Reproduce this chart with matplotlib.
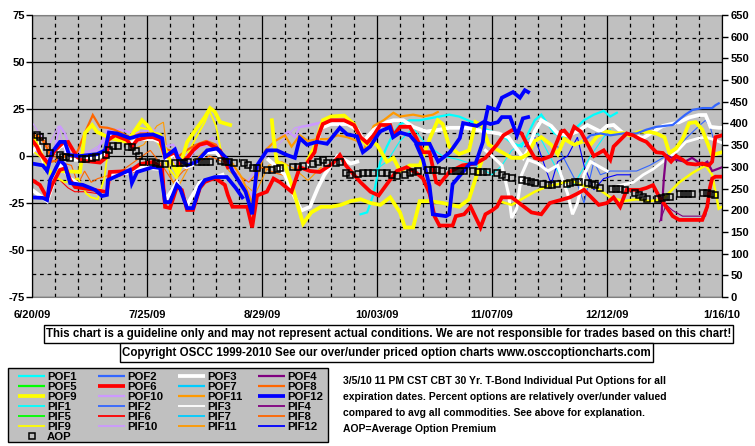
import matplotlib
matplotlib.use('Agg')
import matplotlib.pyplot as plt
from matplotlib.patches import Rectangle
import numpy as np

plt.rcParams['font.family'] = ['Liberation Sans', 'DejaVu Sans']
plt.rcParams['font.weight'] = 'bold'

# x axis: days counted from 6/20/09
date_days = [0, 35, 70, 105, 140, 175, 210]
date_labels = ['6/20/09', '7/25/09', '8/29/09', '10/03/09', '11/07/09', '12/12/09', '1/16/10']
left_ticks = [-75, -50, -25, 0, 25, 50, 75]
right_ticks = list(range(0, 651, 50))

# ---- series (day, percent) ----
pof12_a_days = [0, 3.3, 4.6, 6.1, 8.5, 10, 11.3, 14.6, 19.8, 22.2, 23.4, 25.9, 29.8, 32.9, 36.8,
                39.6, 40.5, 43.5, 44.4, 47.2, 50.2, 53.3, 56.3, 59.6, 61, 65, 67, 68.5, 71.5, 74.5,
                77.6, 80, 81.5, 83.7, 86.7, 89.8, 93.7, 95.9, 98.9, 100.7, 102.9, 105.9, 108.9, 109.9, 112,
                115, 117.2, 121, 123.6, 127.2, 130.2, 131.2, 135.4, 137.9, 138.8, 141.5, 143, 146.4, 148.5, 150, 151]
pof12_a_vals = [-4, -5, -8, 2, 7.5, 7.5, 0.5, 0, 1, 3, 12.5, 12, 9.5, 11, 11.5,
                9.5, -0.5, 3.5, -1, -5, -3, 3, 4, -2, -8, -19, -31, -5, 3, 3,
                0.5, -1, 9.5, 6, 7.5, 6.5, 15, 11.5, 10.5, 2, 5, 13, 15.4, 10, 12.5,
                11, 6.5, 6.5, -3, 2, 9.5, 17.5, 16, 18.5, 26, 24.5, 31, 34, 31, 35, 34]
pof12_b_days = [117, 119, 121, 122, 126, 127, 128, 133.3, 135, 137.2, 137.9, 139.5, 141.8, 143, 145.5, 147.6, 149.4, 151]
pof12_b_vals = [6, -2, -16, -31, -32, -31, -15, -4, -4, 7.4, 18, 17, 18, 20.7, 20.7, 11, 20, 20.7]
pof12_c_days = [0, 3.3, 4.6, 5.5, 8.5, 10, 11.6, 15.5, 19.2, 21.3, 22.8, 23.1, 29.8, 30.4, 32,
                36.8, 39, 40.5, 42, 44.1, 45, 47.2, 49, 51.1, 52.6, 55.7, 59.3, 62, 64]
pof12_c_vals = [-22, -22.3, -23.4, -12.8, -2.1, -4.8, -14.4, -15.4, -18, -21.3, -20.7, -12.8, -7.4, -14.4, -8.5,
                -5.9, -6.4, -24.5, -24.5, -15.4, -17, -27.7, -27.7, -16.5, -12.8, -11.2, -11.2, -17, -22]
pif12_days = [150, 153, 156, 158, 160, 163, 166, 168, 171, 174, 178, 182]
pif12_vals = [5, 10, -5, -15, -3, 0, 10, -5, -18, -12, -10, -10]

pof6_a_days = [0, 1.5, 2.4, 4.9, 7, 9.4, 11, 13.7, 15.5, 20.7, 22.8, 23.1, 25.3, 28.9, 30.4,
               32, 35, 36.8, 39, 40.5, 43.5, 45, 47.2, 49, 51, 53.3, 57.2, 59.6]
pof6_a_vals = [8.5, 5, 1.5, -4, 3, 7, 7.5, -0.5, -2.5, -3.5, -0.5, 8.5, 11, 8.5, 5,
               8.5, 10, 10, 8.5, -0.5, 2, -4, -1, 3, 6, 7, 3, -6]
pof6_b_days = [0, 2.4, 4.6, 6.1, 8.5, 10.3, 11.6, 13.1, 19.2, 22.8, 23.7, 29.8, 32.9, 36.8, 39.6,
               40.5, 42, 44.1, 45.6, 47.2, 49, 51.1, 52.6, 55.7, 58.7, 59.6, 61, 65.5, 67, 68.5,
               71.5, 73.5, 75.5, 79, 81.5, 84.6, 87.6, 91.5, 93.7, 95.5, 97.5, 100, 103, 105.5,
               108, 111, 114, 117, 119, 121, 122.5, 124, 128, 129, 131.5, 133.5, 136.5, 138, 140,
               141.5, 143, 146, 149, 152, 155, 157.6, 160.7, 163.7, 166, 168, 172.5, 175, 177, 179,
               181, 185, 187, 189, 191, 195, 197, 204, 205.5, 206.3, 207, 208, 210]
pof6_b_vals = [-12.8, -15.4, -22.3, -15.4, -7.4, -6.4, -12.8, -16.5, -18.1, -19.1, -8.5, -8, -4.3, -3.2, -6.4,
               -27.1, -27.7, -16.5, -18.1, -28.7, -28.7, -17, -13.8, -11.7, -15.4, -20.7, -27, -27, -38, -21,
               -19, -12, -14, -19, -6, -8, -8.5, -4, 0.5, -5, -9, -14, -19, -21,
               -15, -8, -6, -9, -12, -20, -32, -37, -37, -32, -31, -27, -38, -31, -29,
               -27, -22, -22, -26, -30, -31, -25, -23.5, -22, -20, -18, -26, -25, -22, -27,
               -18, -18, -17, -15.5, -22, -32, -34, -34, -27, -17, -12, -11, -11]
pof6_d_days = [84, 86, 87, 88.5, 91, 95, 98, 100, 102, 104, 106, 109, 110, 112, 115,
               117, 119, 121, 123, 124, 127, 131, 135, 138, 141.5, 143.5, 146.4, 149, 151, 153,
               155, 158, 160, 161, 162, 163.7, 165, 167, 169.5, 171, 174, 176, 177, 179, 181,
               183, 185, 187, 190, 192, 194.5, 196, 198, 199.5, 202, 204, 206, 207, 208, 210]
pof6_d_vals = [-3, 2, 10, 17, 19, 19, 16.5, 10, 7, 11, 16.5, 16.5, 11, 15.5, 15.5,
               9.5, 2, 2, -14, -15, -8.5, -5, -4, -1, 6, 11, 14, 12, 5, -1,
               -2, 0, 8.5, 13, 13.5, 10, 15.5, 13, 5, 0, 3, -2, 5, 8.5, 12,
               11, 9, 7.5, 2, 1.6, -3, 0, -2, -4, -4.5, -4, -5, -3, 10, 11]
pif6_days = [8, 11, 13, 16, 20, 22.8, 24, 28, 32]
pif6_vals = [-12, -17, -19, -19, -20, -21, -12, -10, -8]

pof9_a_days = [0, 0.9, 1.8, 3.3, 5.5, 8.5, 14.6, 16.1, 18.3, 19.8, 23.7, 28.9, 33.5, 35,
               36.8, 39, 41.1, 42.9, 44.1, 45.6, 47.2, 50.2, 52.6, 54.2, 55.7, 57.2, 60.3]
pof9_a_vals = [5.9, 8.5, 4.3, -0.5, -9, -8, -8.5, 12.2, 16.5, 12.8, 9.6, 7.4, 19.1, 16.5,
               12.2, 11.2, 0.5, -4.8, -9, -2.1, 7.4, 14.9, 20.7, 25.5, 23.4, 18.1, 16.5]
pof9_b_days = [84, 86, 88.5, 91, 95, 98, 100, 102, 103, 105, 108, 110, 112, 115, 118,
               121, 123.5, 125, 127, 130, 133, 135, 137, 139, 142, 146, 149, 151, 153, 155,
               158, 160, 162, 165, 168, 170, 172, 175, 178, 180, 182, 185, 188, 190, 192.5,
               194, 196, 198, 200, 202, 204, 206, 207, 210]
pof9_b_vals = [-2, 5, 19, 21, 21.5, 17, 9, 6, 8, 6, -3, -1, -8, -5, -5,
               9, 19, 17, 5, 1, 3, 18, 16, 6, 3, -1, -1, 1, 8, 10,
               6, 1, 9, 6, 8, 6, 10.5, 13, 12, 12.2, 11, 13, 12.8, 12, 10,
               1.6, 4, 9, 17.5, 18, 14, 5, 0.5, 2]
pof9_c_days = [73, 73.5, 74.5, 77, 79, 81, 82.5, 85, 88, 91, 94, 97, 100, 103, 106,
               109, 112, 113.5, 116, 118, 121, 125, 130, 133, 135, 137]
pof9_c_vals = [19, 10, -3, -5, -15, -27, -36, -30, -27, -27, -26, -24, -23, -25, -26,
               -22, -30, -38, -38, -24, -24, -25, -27, -23, -12, -2]
pif9_a_days = [0, 3, 6, 10, 14, 16.5, 18, 20, 22, 23.5, 26, 29, 33, 36, 39, 41, 44, 47, 50, 52.6, 54, 56, 57.5, 59]
pif9_a_vals = [3, -1, -10, -14, -12, -20, -22, -23, -12, 8, 14, 8, 15, 14, 5, -5, -12, 0, 10, 18, 24, 16, 3, -4]
pif9_b_days = [142, 146, 149, 153, 157, 160, 164, 168, 172, 176, 180, 184, 188, 192, 197, 201, 205, 207, 209, 210]
pif9_b_vals = [-24, -26, -23, -19, -16, -15, -13, -16, -17, -22, -24, -23, -24, -23, -14, -9, -5, -10, -28, -27]

pof3_a_days = [0, 2, 4, 6, 8.5, 10, 11.3, 15, 20, 22, 23.4, 26, 30, 33, 37, 39.6, 40.5, 43.5, 44.4, 47, 50, 53, 56, 59]
pof3_a_vals = [2, 6, -6, 0, 5, 6, -2, -2, -1, 1, 11, 10, 7, 9, 9, 7, -2, 1, -3, -6, -4, 2, 2, -4]
pof3_b_days = [0, 4.6, 8.5, 11.6, 16, 22.8, 23.7, 29, 32.9, 39.6, 40.5, 44.1, 47.2, 51.1, 55, 58]
pof3_b_vals = [-18, -24, -4, -12, -17, -19, -10, -9, -6, -7, -24, -14, -26, -14, -12, -10]
pof3_c_days = [72, 74, 77, 80, 82, 84.6, 87, 89, 91, 93, 95, 97, 99]
pof3_c_vals = [-2, -5, -10, -22, -29, -27, -17, -10, -5, 0, -2, -4, -3]
pof3_d_days = [84, 86, 88, 91, 96, 99, 101, 104, 108, 110, 113, 116, 120, 124, 127,
               132, 138, 142, 145, 147, 149.5, 151, 153, 155, 158, 160, 163, 166, 169, 173,
               175, 177, 180, 183, 186, 189, 192, 197, 200, 203, 205, 206.5, 209, 210]
pof3_d_vals = [-4, 3, 15, 17, 17, 14, 8, 14, 18, 19, 19, 15.5, 13, 14, 15,
               15, 13, 12, 10, 5, -1, 3, 13, 19, 16, 12, 11, 13, 16.5, 13,
               16, 16.5, 12, 11, 9.6, 12.8, 16, 18, 20.5, 21.8, 21.8, 15.5, 15, 15]
pif3_a_days = [138, 140, 143, 145, 146, 147.5, 149, 151, 154, 157, 160, 163, 164.5, 166, 168, 170, 172, 175]
pif3_a_vals = [3, 0, -5, -20, -33, -28, -10, -2, -4, -8, -5, -20, -31, -25, -10, -3, -5, -8]
pif3_b_days = [178, 183, 186, 189, 192, 196, 199, 203, 205, 207, 210]
pif3_b_vals = [-16, -14, -10, -7, -3, 2, 7.5, 9.5, 10, 9, 7]

pof8_days = [0, 1.5, 3, 5, 6, 8.5, 10, 12.5, 14, 16, 18.5, 20.7, 23, 25, 30, 33, 37, 40, 42, 44, 47, 50, 53, 56, 59]
pof8_vals = [10, 11, 9, 3, -3, -2, 0, -1, 3, 12, 21.8, 15.4, 15, 14, 10, 12, 12, 4, 3, -1, 3, 6, 8, 6, -3]
pif8_days = [0, 4, 8, 12, 14, 16, 18, 20, 24, 28, 32, 36, 40, 43, 46, 50, 54, 58, 62, 66, 70, 74, 78]
pif8_vals = [12, 8, -3, -5, -15, -8, -14, -12, -10, -7, -2, 3, -6, -14, -8, -4, 0, -3, -9, -14, -6, -9, -11]

pof10_days = [0, 3, 5, 7, 8.5, 10, 12, 15, 20, 23, 27, 31, 34, 37, 40, 43, 45, 48, 51, 54, 56, 58,
              60, 63, 67, 69, 72, 75, 78, 80, 81.5, 84, 87.6, 89]
pof10_vals = [5, 0, -2, 5, 16, 12, 3, 2, 3, 14, 14, 12, 13, 14, 5, 6, 0, 1, 5, 6, 4, 0,
              -3, -10, -22, -3, 5, 9, 13, 10, 15.4, 16, 17.5, 18]
pif10_days = [0, 5, 8, 10, 15, 20, 25, 30, 35, 40, 45, 50, 55, 60, 65, 70, 75, 80, 85, 90]
pif10_vals = [18, 5, 16, 2, 0, 5, 12, 10, 14, 6, -8, 3, 10, -4, -15, -2, 6, 15, 17, 19]

pof11_days = [61, 64, 67, 69, 71, 74, 77, 79, 81.5, 84, 87, 90, 93, 96, 99, 101, 102, 104, 107, 110, 112, 116, 119, 122, 123.5]
pof11_vals = [-4, -12, -25, -8, 3, 8, 11, 5, 11, 8, 9, 9, 11, 10, 8, 3, 8, 16, 19, 23, 21, 22, 21, 22, 23.4]
pif11_days = [30, 34, 38, 40, 41, 42, 44, 48, 52, 56, 60, 64, 68, 72, 76, 80, 84, 88]
pif11_vals = [3, 6, 16, 18, 4, -10, -18, -5, 2, 4, -8, -14, -20, -5, -3, -7, -13, -6]

pof1_days = [100, 102, 104, 106, 108, 110, 112, 115, 118, 121, 124, 127, 130, 134, 137, 140,
             143, 146, 149, 151, 153, 155, 157, 159, 162, 165, 168, 171, 174, 176, 178]
pof1_vals = [-31, -30, -20, -3, 5, 12, 17, 19, 19, 20, 21, 22, 21, 18, 15, 13,
             11, 7, 5, 12, 19, 22, 17, 12, 10, 14, 19, 22, 24, 21, 23]
pif1_days = [104, 108, 112, 116, 120, 125, 130, 135, 140, 143, 146, 150, 154, 157, 160, 163, 165, 170, 174, 176]
pif1_vals = [-8, -3, 8, 15, 6, 0, -2, -5, -10, -5, 3, 8, 12, 2, -8, -17, -15, 0, 10, 14]

pof2_days = [168, 170, 173, 176, 180, 184, 187, 190, 195, 198.7, 201, 204, 207, 208, 209]
pof2_vals = [8, 11, 12, 11, 12, 12, 14, 15.5, 16.5, 21.8, 24.5, 25.5, 25.5, 27, 28]
pif2_days = [160, 163, 166, 168, 171, 173, 176, 180, 184, 188, 192, 196, 200, 203, 205, 206.5, 208]
pif2_vals = [5, -5, -15, -25, -3, -10, -8, -8, -8, -5, -1, 4, 11, 16, 19, 15, 5]

pof4_days = [191.5, 192.3, 193, 196, 198.7, 200.9, 204, 205.5, 207, 210]
pof4_vals = [-34, -12, 0.5, -2, -3, -1, -4.8, -3, -8, -6]
pif4_days = [191, 193, 195, 198, 202, 205, 206.5]
pif4_vals = [-35, -26, -29, -32, -32, -32, -20]

aop_days = [1.5, 2.4, 3.3, 4.6, 5.5, 8.5, 9.4, 10.3, 11.6, 15.2, 16.4, 18.3, 19.5, 22.5, 23.4,
            24.6, 26.2, 29.2, 30.4, 31.6, 32.6, 33.8, 36.5, 37.7, 39.0, 40.5, 43.5, 45.0, 46.3, 47.5,
            50.5, 51.7, 53.0, 54.2, 57.5, 58.7, 60.0, 61.5, 64.5, 65.7, 67.3, 68.5, 71.5, 73.0, 74.6,
            75.5, 79.4, 81.0, 82.5, 85.5, 87.0, 88.6, 89.8, 92.5, 93.7, 95.6, 96.8, 99.2, 100.7, 102.2,
            103.8, 106.5, 108.0, 109.6, 111.1, 113.5, 115.0, 116.0, 117.5, 120.5, 122.0, 123.3, 124.8, 127.8, 129.0,
            130.2, 131.5, 134.2, 135.7, 137.2, 138.5, 141.5, 143.0, 144.2, 146.1, 149.1, 150.6, 151.9, 153.1, 155.5,
            157.0, 158.2, 159.8, 162.8, 163.7, 165.2, 166.5, 169.2, 170.4, 171.3, 172.9, 176.5, 177.7, 179.0, 180.5,
            183.5, 184.7, 185.9, 187.1, 190.5, 191.7, 192.9, 194.2, 197.2, 198.4, 199.6, 200.9, 204.2, 205.4, 206.6, 207.9]
aop_vals = [11.2, 10.1, 8.0, 4.8, 1.6, 0.5, -0.5, -0.5, -1.1, -1.6, -1.6, -1.1, -0.5, 0.5, 3.2,
            5.3, 5.3, 4.8, 4.8, 2.7, 0.0, -3.2, -3.2, -3.7, -4.3, -4.3, -3.7, -3.7, -3.7, -3.2,
            -3.2, -3.2, -3.2, -3.2, -2.7, -3.2, -3.2, -3.7, -3.7, -4.8, -6.4, -6.4, -7.4, -7.4, -6.9,
            -6.4, -5.9, -5.9, -5.3, -4.3, -3.2, -2.1, -3.7, -3.7, -3.2, -9.0, -10.1, -9.6, -9.0, -9.0,
            -9.0, -9.0, -9.0, -10.1, -10.6, -10.1, -9.0, -8.5, -8.0, -7.4, -7.4, -7.4, -8.0, -8.0, -8.0,
            -8.0, -8.0, -8.0, -8.5, -8.5, -8.5, -9.0, -10.1, -11.2, -11.7, -12.8, -13.3, -13.8, -14.4, -14.9,
            -15.4, -15.4, -14.9, -14.9, -14.4, -13.8, -13.8, -14.4, -14.9, -15.4, -17.0, -17.6, -17.6, -17.6, -18.1,
            -19.7, -20.7, -21.8, -22.9, -22.9, -22.3, -21.8, -21.8, -20.2, -20.2, -20.2, -20.2, -19.7, -19.7, -20.2, -20.7]

colors = {1: '#00FFFF', 2: '#3366FF', 3: '#FFFFFF', 4: '#800080', 5: '#00FF00', 6: '#FF0000',
          7: '#00CCFF', 8: '#FF6600', 9: '#FFFF00', 10: '#CC99FF', 11: '#FF9900', 12: '#0000FF'}
thick = {3, 6, 9, 12}


def width(kind, n):
    if kind == 'POF':
        return 2.7 if n in thick else 1.6
    return 0.8


# (days, vals, kind, number, width override)
series = [
    (pif10_days, pif10_vals, 'PIF', 10, None),
    (pif8_days, pif8_vals, 'PIF', 8, None),
    (pif11_days, pif11_vals, 'PIF', 11, None),
    (pif6_days, pif6_vals, 'PIF', 6, None),
    (pif1_days, pif1_vals, 'PIF', 1, None),
    (pif2_days, pif2_vals, 'PIF', 2, None),
    (pif12_days, pif12_vals, 'PIF', 12, None),
    (pif4_days, pif4_vals, 'PIF', 4, None),
    (pif9_a_days, pif9_a_vals, 'PIF', 9, 1.3),
    (pof10_days, pof10_vals, 'POF', 10, None),
    (pof8_days, pof8_vals, 'POF', 8, None),
    (pof11_days, pof11_vals, 'POF', 11, None),
    (pof1_days, pof1_vals, 'POF', 1, None),
    (pof3_a_days, pof3_a_vals, 'POF', 3, None),
    (pof3_b_days, pof3_b_vals, 'POF', 3, None),
    (pof3_c_days, pof3_c_vals, 'POF', 3, None),
    (pif3_a_days, pif3_a_vals, 'PIF', 3, 2.2),
    (pif3_b_days, pif3_b_vals, 'PIF', 3, 2.0),
    (pof3_d_days, pof3_d_vals, 'POF', 3, None),
    (pif9_b_days, pif9_b_vals, 'PIF', 9, 1.8),
    (pof9_c_days, pof9_c_vals, 'POF', 9, None),
    (pof9_a_days, pof9_a_vals, 'POF', 9, None),
    (pof9_b_days, pof9_b_vals, 'POF', 9, None),
    (pof2_days, pof2_vals, 'POF', 2, None),
    (pof4_days, pof4_vals, 'POF', 4, None),
    (pof6_b_days, pof6_b_vals, 'POF', 6, None),
    (pof6_a_days, pof6_a_vals, 'POF', 6, None),
    (pof6_d_days, pof6_d_vals, 'POF', 6, None),
    (pof12_c_days, pof12_c_vals, 'POF', 12, None),
    (pof12_b_days, pof12_b_vals, 'POF', 12, None),
    (pof12_a_days, pof12_a_vals, 'POF', 12, None),
]

W, H = 755, 446
fig = plt.figure(figsize=(W / 100, H / 100), dpi=100)
fig.patch.set_facecolor('white')

ax = fig.add_axes([32 / W, 1 - 297 / H, 690 / W, 282 / H])
ax.set_facecolor('#C0C0C0')
ax.set_xlim(0, 210)
ax.set_ylim(-75, 75)

for d, v, kind, n, lw in series:
    ax.plot(d, v, color=colors[n], lw=lw if lw else width(kind, n),
            solid_joinstyle='miter', zorder=3)
ax.plot(aop_days, aop_vals, 's', mfc='none', mec='black', ms=4.8, mew=1.1, zorder=4)

# grid
ax.set_xticks(date_days)
ax.set_xticks(np.arange(0, 211, 7), minor=True)
ax.set_yticks(left_ticks)
ax.set_yticks(np.arange(-62.5, 75, 25), minor=True)
ax.grid(which='major', color='black', lw=0.9, ls='-', zorder=1)
ax.grid(which='minor', color='black', lw=0.9, ls=(0, (3, 3)), zorder=1)
ax.set_axisbelow(True)

ax.set_xticklabels(date_labels, fontsize=8, fontweight='bold')
ax.set_yticklabels([str(t) for t in left_ticks], fontsize=8, fontweight='bold')
ax.tick_params(axis='x', which='both', length=0, pad=9)
ax.tick_params(axis='y', which='major', length=4, width=1, pad=1, direction='out')
ax.tick_params(axis='y', which='minor', length=0)
for s in ['top', 'bottom']:
    ax.spines[s].set_color('#808080')
for s in ['left', 'right']:
    ax.spines[s].set_color('black')

ax2 = ax.twinx()
ax2.set_ylim(0, 650)
ax2.set_yticks(right_ticks)
ax2.set_yticklabels([str(t) for t in right_ticks], fontsize=8, fontweight='bold')
ax2.tick_params(axis='y', length=4, width=1, pad=2)
for s in ['top', 'bottom']:
    ax2.spines[s].set_visible(False)

# ---- lower panel drawn in pixel coordinates ----
ov = fig.add_axes([0, 0, 1, 1], zorder=-1)
ov.set_xlim(0, W)
ov.set_ylim(H, 0)
ov.axis('off')

ov.add_patch(Rectangle((44, 325), 689, 18, fc='white', ec='black', lw=1))
ov.text(389, 334.5, 'This chart is a guideline only and may not represent actual conditions. '
        'We are not responsible for trades based on this chart!',
        ha='center', va='center', fontsize=8.3, fontweight='bold')
ov.add_patch(Rectangle((120, 343), 533, 19, fc='white', ec='black', lw=1))
ov.text(386.5, 353, 'Copyright OSCC 1999-2010 See our over/under priced option charts www.osccoptioncharts.com',
        ha='center', va='center', fontsize=8.3, fontweight='bold')

ov.add_patch(Rectangle((8, 368), 320, 74, fc='#C0C0C0', ec='black', lw=1))
col_x = [18, 98, 178, 258]
row_y = [376, 386, 396, 406, 416, 426]
for kind, r0 in [('POF', 0), ('PIF', 3)]:
    for n in range(1, 13):
        r = r0 + (n - 1) // 4
        c = (n - 1) % 4
        x0 = col_x[c]
        ov.plot([x0, x0 + 27], [row_y[r], row_y[r]], color=colors[n], lw=width(kind, n) if kind == 'POF' else 1.3,
                solid_capstyle='butt')
        ov.text(x0 + 29, row_y[r] + 0.5, f'{kind}{n}', ha='left', va='center', fontsize=8.2, fontweight='bold')
ov.plot([32], [436], 's', mfc='none', mec='black', ms=4.6, mew=1.1)
ov.text(47, 436.5, 'AOP', ha='left', va='center', fontsize=8.2, fontweight='bold')

notes = ['3/5/10 11 PM CST CBT 30 Yr. T-Bond Individual Put Options for all',
         'expiration dates. Percent options are relatively over/under valued',
         'compared to avg all commodities. See above for explanation.',
         'AOP=Average Option Premium']
for i, line in enumerate(notes):
    ov.text(343, 381 + 16 * i, line, ha='left', va='center', fontsize=7.45, fontweight='bold')

fig.savefig('out.png', dpi=100, facecolor='white')
